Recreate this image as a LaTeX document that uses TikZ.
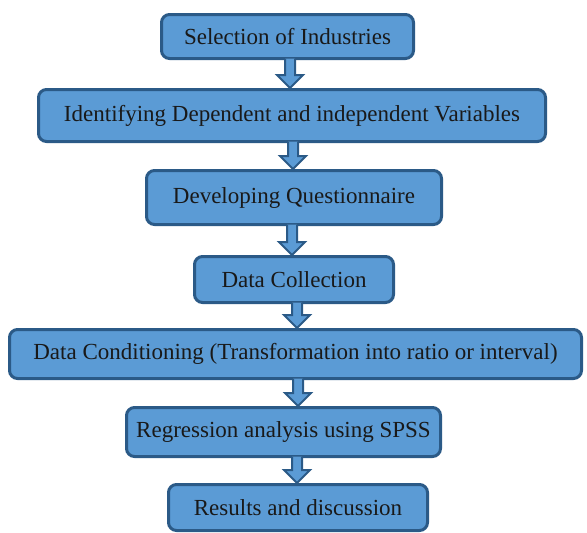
\documentclass[tikz,border=0pt]{standalone}
\usepackage{fontspec}
\setmainfont{Liberation Serif}
\usepackage{xcolor}
\usepackage{tikz}
\usetikzlibrary{calc}
\definecolor{boxfill}{HTML}{5B9BD5}
\definecolor{boxline}{HTML}{2B5A87}
\tikzset{stage/.style={rectangle,rounded corners=8pt,draw=boxline,fill=boxfill,line width=3pt,inner sep=0pt,font=\fontsize{23}{27}\selectfont,text=black!90}}
\tikzset{blockarr/.style={draw=boxline,fill=boxfill,line width=2pt,line join=miter}}
\newcommand{\flowarrow}[3]{%
  \path[blockarr] ($(#3-5,0 |- #1.south)+(0,1.5)$) -- ($(#3-5,0 |- #2.north)+(0,13)$) -- ($(#3-13,0 |- #2.north)+(0,13)$)
    -- (#3,0 |- #2.north) -- ($(#3+13,0 |- #2.north)+(0,13)$) -- ($(#3+5,0 |- #2.north)+(0,13)$) -- ($(#3+5,0 |- #1.south)+(0,1.5)$);}

\begin{document}
\begin{tikzpicture}[x=1pt,y=1pt]
    \useasboundingbox (0,0) rectangle (587,-533);
    \node[stage,minimum width=252,minimum height=44] (a) at (287.5,-36.5) {Selection of Industries};
    \node[stage,minimum width=507,minimum height=52] (b) at (292,-115.5) {Identifying Dependent and independent Variables};
    \node[stage,minimum width=295,minimum height=54] (c) at (294,-197.5) {Developing Questionnaire};
    \node[stage,minimum width=199,minimum height=46] (d) at (294,-279.5) {Data Collection};
    \node[stage,minimum width=572,minimum height=49] (e) at (295.5,-354) {Data Conditioning (Transformation into ratio or interval)};
    \node[stage,minimum width=314,minimum height=49] (f) at (283.5,-432) {Regression analysis using SPSS};
    \node[stage,minimum width=259,minimum height=46] (g) at (298,-507.5) {Results and discussion};

    \flowarrow{a}{b}{290}
    \flowarrow{b}{c}{293}
    \flowarrow{c}{d}{292}
    \flowarrow{d}{e}{297}
    \flowarrow{e}{f}{298}
    \flowarrow{f}{g}{297}
\end{tikzpicture}
\end{document}
